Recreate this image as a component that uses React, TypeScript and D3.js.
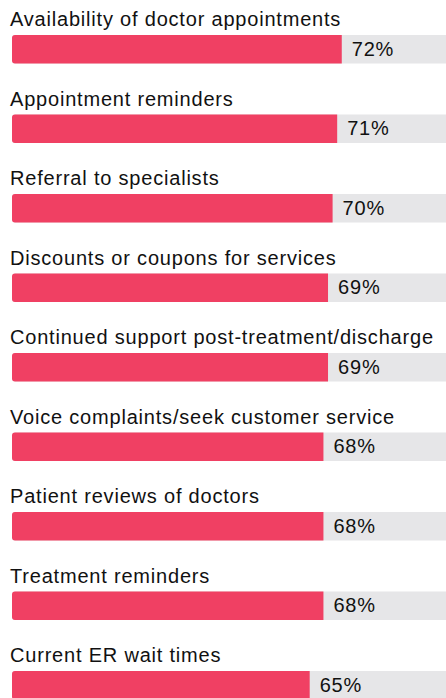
import React from "react";
import * as d3 from "d3";

const categories = [
  "Availability of doctor appointments",
  "Appointment reminders",
  "Referral to specialists",
  "Discounts or coupons for services",
  "Continued support post-treatment/discharge",
  "Voice complaints/seek customer service",
  "Patient reviews of doctors",
  "Treatment reminders",
  "Current ER wait times",
];
const values = [72, 71, 70, 69, 69, 68, 68, 68, 65];

const W = 446;
const H = 698;

export default function App() {
  const x = d3.scaleLinear().domain([0, 100]).range([12, 470]);
  const y = d3
    .scaleBand<number>()
    .domain(d3.range(categories.length))
    .range([0, categories.length * 79.5])
    .paddingInner(0);
  const barTop = 35;
  const barH = 28.5;
  const font = "'Liberation Sans', Arial, Helvetica, sans-serif";
  return (
    <svg
      width={W}
      height={H}
      style={{ position: "fixed", left: 0, top: 0, display: "block", background: "#fff" }}
    >
      {categories.map((c, i) => {
        const y0 = (y(i) ?? 0) + barTop;
        const r = 3;
        const x0 = x(0);
        const x1 = x(values[i]);
        const path = `M${x0 + r},${y0} H${x1} V${y0 + barH} H${x0 + r} A${r},${r} 0 0 1 ${x0},${y0 + barH - r} V${y0 + r} A${r},${r} 0 0 1 ${x0 + r},${y0} Z`;
        return (
          <g key={c}>
            <text
              x={10}
              y={y0 - 9}
              fontFamily={font}
              fontSize={20}
              letterSpacing={0.8}
              fill="#111"
            >
              {c}
            </text>
            <rect x={x0} y={y0} width={x(100) - x0} height={barH} rx={r} fill="#E6E6E8" />
            <path d={path} fill="#F04063" />
            <text
              x={x1 + 10}
              y={y0 + 20.8}
              fontFamily={font}
              fontSize={20}
              letterSpacing={0.8}
              fill="#111"
            >
              {values[i]}%
            </text>
          </g>
        );
      })}
    </svg>
  );
}
